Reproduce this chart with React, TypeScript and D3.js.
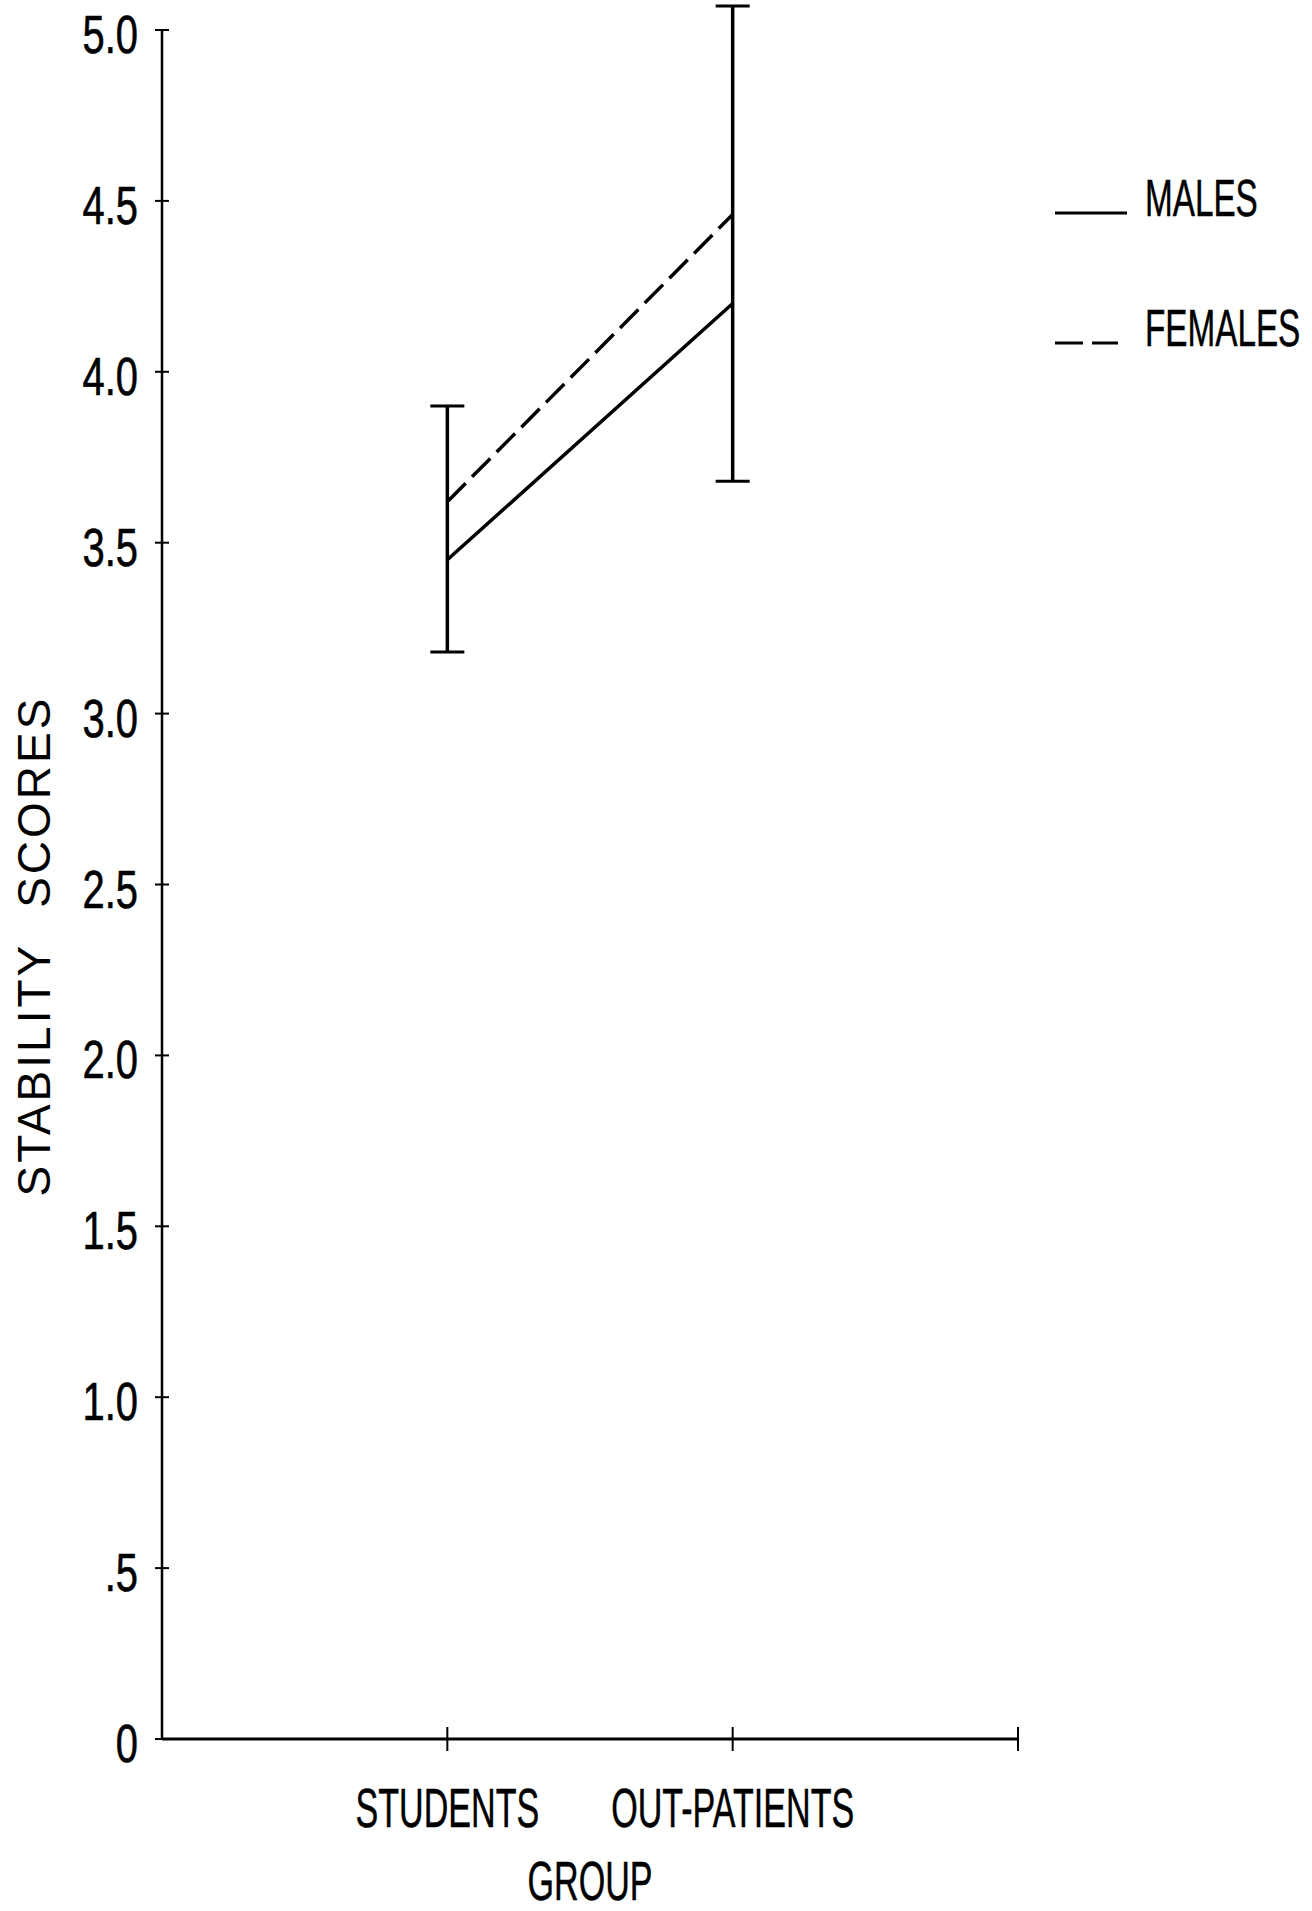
import * as d3 from "d3";

// values
const groups = ["STUDENTS", "OUT-PATIENTS"];
const males = [3.45, 4.2];
const females = [3.62, 4.46];
const errLow = [3.18, 3.68];
const errHigh = [3.9, 5.07];
const yTicks = [0, 0.5, 1, 1.5, 2, 2.5, 3, 3.5, 4, 4.5, 5];
const yTickLabels = ["0", ".5", "1.0", "1.5", "2.0", "2.5", "3.0", "3.5", "4.0", "4.5", "5.0"];
const legendNames = ["MALES", "FEMALES"];

const W = 1312;
const H = 1911;
const FONT = "'Liberation Sans', Arial, sans-serif";

export default function App() {
  const x = d3.scalePoint<string>().domain(groups).range([162, 1018]).padding(1);
  const y = d3.scaleLinear().domain([0, 5]).range([1739, 30]);

  const line = d3
    .line<number>()
    .x((_, i) => x(groups[i]) as number)
    .y((d) => y(d));

  const xEnd = x.range()[1];
  const xStart = x.range()[0];

  return (
    <svg
      width={W}
      height={H}
      style={{ position: "absolute", left: 0, top: 0, background: "#fff" }}
      fontFamily={FONT}
    >
      {/* y axis */}
      <line x1={xStart} x2={xStart} y1={y(5)} y2={y(0)} stroke="#000" strokeWidth={2.5} />
      {yTicks.map((t, i) => (
        <g key={t}>
          <line x1={xStart - 7} x2={xStart + 7} y1={y(t)} y2={y(t)} stroke="#000" strokeWidth={2} />
          <text
            transform={`translate(138,${y(t) + 23}) scale(0.74,1)`}
            textAnchor="end"
            fontSize={54}
            stroke="#000"
            strokeWidth={0.6}
          >
            {yTickLabels[i]}
          </text>
        </g>
      ))}
      <text
        transform={`translate(50,946) rotate(-90)`}
        textAnchor="middle"
        fontSize={46}
        letterSpacing={3}
        wordSpacing={20}
      >
        STABILITY SCORES
      </text>

      {/* x axis */}
      <line x1={xStart} x2={xEnd} y1={y(0)} y2={y(0)} stroke="#000" strokeWidth={3} />
      {[...groups.map((g) => x(g) as number), xEnd].map((px) => (
        <line key={px} x1={px} x2={px} y1={y(0) - 12} y2={y(0) + 12} stroke="#000" strokeWidth={2} />
      ))}
      {groups.map((g) => (
        <text
          key={g}
          transform={`translate(${x(g)},1827) scale(0.62,1)`}
          textAnchor="middle"
          fontSize={55}
          stroke="#000"
          strokeWidth={0.5}
        >
          {g}
        </text>
      ))}
      <text
        transform={`translate(${((x(groups[0]) as number) + (x(groups[1]) as number)) / 2},1900) scale(0.62,1)`}
        textAnchor="middle"
        fontSize={55}
        stroke="#000"
        strokeWidth={0.5}
      >
        GROUP
      </text>

      {/* error bars */}
      {groups.map((g, i) => {
        const px = x(g) as number;
        return (
          <g key={g} stroke="#000">
            <line x1={px} x2={px} y1={y(errHigh[i])} y2={y(errLow[i])} strokeWidth={3.5} />
            <line x1={px - 17} x2={px + 17} y1={y(errHigh[i])} y2={y(errHigh[i])} strokeWidth={3} />
            <line x1={px - 17} x2={px + 17} y1={y(errLow[i])} y2={y(errLow[i])} strokeWidth={3} />
          </g>
        );
      })}

      {/* series */}
      <path d={line(males) ?? ""} fill="none" stroke="#000" strokeWidth={3.5} />
      <path d={line(females) ?? ""} fill="none" stroke="#000" strokeWidth={3.5} strokeDasharray="26 9" />

      {/* legend */}
      {legendNames.map((n, i) => {
        const base = i === 0 ? 216 : 346;
        return (
          <g key={n}>
            <line
              x1={1055}
              x2={i === 0 ? 1127 : 1118}
              y1={base - 3}
              y2={base - 3}
              stroke="#000"
              strokeWidth={3}
              strokeDasharray={i === 0 ? undefined : "28 9"}
            />
            <text
              transform={`translate(1145,${base}) scale(0.64,1)`}
              fontSize={52}
              stroke="#000"
              strokeWidth={0.5}
            >
              {n}
            </text>
          </g>
        );
      })}
    </svg>
  );
}
